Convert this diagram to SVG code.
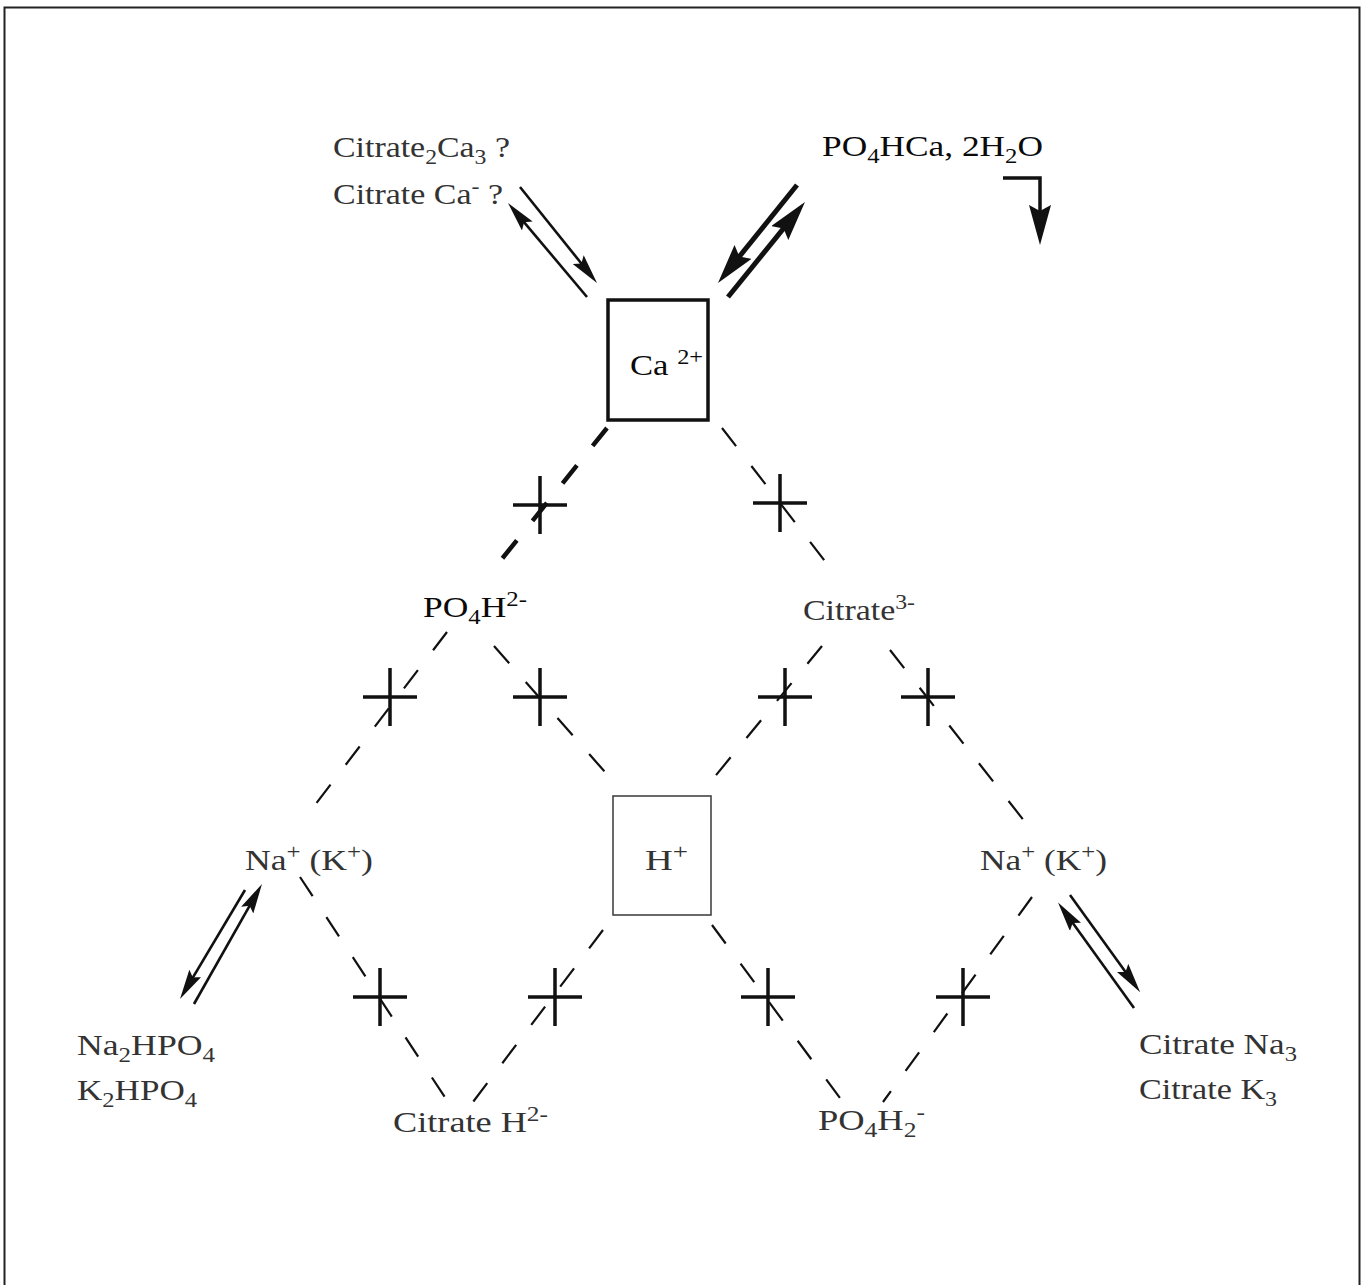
<svg xmlns="http://www.w3.org/2000/svg" width="1370" height="1285" viewBox="0 0 1370 1285">
<style>
.t{font-family:"Liberation Serif","Times New Roman",serif;font-size:30px;fill:#333}
.b{fill:#0a0a0a}
.d{stroke:#111;stroke-width:2.2;stroke-dasharray:23 25;fill:none}
.dk{stroke:#111;stroke-width:4.5;stroke-dasharray:23 25;fill:none}
.x{stroke:#111;stroke-width:3.5;fill:none}
.a{stroke:#111;stroke-width:2.6;fill:none;marker-end:url(#ah)}
.ak{stroke:#111;stroke-width:5;fill:none;marker-end:url(#ahk)}
</style>
<defs>
<marker id="ah" markerUnits="userSpaceOnUse" viewBox="0 0 30 14" markerWidth="30" markerHeight="14" refX="14" refY="7" orient="auto"><path d="M0,0 L30,7 L0,14 L5,7 z" fill="#111"/></marker>
<marker id="ahk" markerUnits="userSpaceOnUse" viewBox="0 0 40 22" markerWidth="40" markerHeight="22" refX="18" refY="11" orient="auto"><path d="M0,0 L40,11 L0,22 L6,11 z" fill="#111"/></marker>
</defs>
<rect x="4.5" y="7.5" width="1355" height="1295" fill="none" stroke="#222" stroke-width="2"/>

<g id="connectors">
<line class="dk" x1="607" y1="428" x2="497" y2="565"/>
<line class="d" x1="722" y1="428" x2="838" y2="578"/>
<line class="d" x1="447" y1="632" x2="315" y2="805"/>
<line class="d" x1="494" y1="646" x2="612" y2="780"/>
<line class="d" x1="822" y1="646" x2="712" y2="780"/>
<line class="d" x1="890" y1="650" x2="1025" y2="822"/>
<line class="d" x1="300" y1="877" x2="448" y2="1102"/>
<line class="d" x1="603" y1="930" x2="473" y2="1102"/>
<line class="d" x1="712" y1="925" x2="840" y2="1098"/>
<line class="d" x1="1032" y1="897" x2="883" y2="1102"/>
<path class="x" d="M513,505h54M540,476v58 M753,503h54M780,474v58 M363,697h54M390,668v58 M513,697h54M540,668v58 M758,697h54M785,668v58 M901,697h54M928,668v58 M353,997h54M380,968v58 M528,997h54M555,968v58 M741,997h54M768,968v58 M936,997h54M963,968v58"/>
<line class="a" x1="520" y1="187" x2="587" y2="270.5"/>
<line class="a" x1="587" y1="297" x2="518.3" y2="215.3"/>
<line class="ak" x1="797" y1="185" x2="731.8" y2="265.9"/>
<line class="ak" x1="728" y1="297" x2="791.1" y2="219.1"/>
<path d="M1003,178 H1040 V223" stroke="#111" stroke-width="3.5" fill="none" marker-end="url(#ahk)"/>
<line class="a" x1="245" y1="890" x2="188.2" y2="985.3"/>
<line class="a" x1="194" y1="1004" x2="254.1" y2="897.9"/>
<line class="a" x1="1070" y1="895" x2="1130.8" y2="979.3"/>
<line class="a" x1="1134" y1="1008" x2="1067.4" y2="915.6"/>
</g>

<g id="ca">
<rect x="608" y="300" width="100" height="120" fill="none" stroke="#111" stroke-width="3.5"/>
<text class="t b" x="630" y="375" textLength="73" lengthAdjust="spacingAndGlyphs">Ca <tspan font-size="21" dy="-11">2+</tspan></text>
</g>
<g id="h">
<rect x="613" y="796" width="98" height="119" fill="none" stroke="#444" stroke-width="1.6"/>
<text class="t" x="645" y="870" textLength="43" lengthAdjust="spacingAndGlyphs">H<tspan font-size="21" dy="-11">+</tspan></text>
</g>
<g id="citrate-ca">
<text class="t" x="333" y="157" textLength="177" lengthAdjust="spacingAndGlyphs">Citrate<tspan font-size="21" dy="7">2</tspan><tspan dy="-7">Ca</tspan><tspan font-size="21" dy="7">3</tspan><tspan dy="-7"> ?</tspan></text>
<text class="t" x="333" y="204" textLength="170" lengthAdjust="spacingAndGlyphs">Citrate Ca<tspan font-size="21" dy="-11">-</tspan><tspan dy="11"> ?</tspan></text>
</g>
<g id="po4hca">
<text class="t b" x="822" y="156" textLength="221" lengthAdjust="spacingAndGlyphs">PO<tspan font-size="21" dy="7">4</tspan><tspan dy="-7">HCa, 2H</tspan><tspan font-size="21" dy="7">2</tspan><tspan dy="-7">O</tspan></text>
</g>
<g id="po4h">
<text class="t b" x="423" y="617" textLength="104" lengthAdjust="spacingAndGlyphs">PO<tspan font-size="21" dy="7">4</tspan><tspan dy="-7">H</tspan><tspan font-size="21" dy="-11">2-</tspan></text>
</g>
<g id="citrate3">
<text class="t" x="803" y="620" textLength="112" lengthAdjust="spacingAndGlyphs">Citrate<tspan font-size="21" dy="-11">3-</tspan></text>
</g>
<g id="na-left">
<text class="t" x="245" y="870" textLength="128" lengthAdjust="spacingAndGlyphs">Na<tspan font-size="21" dy="-11">+</tspan><tspan dy="11"> (K</tspan><tspan font-size="21" dy="-11">+</tspan><tspan dy="11">)</tspan></text>
</g>
<g id="na-right">
<text class="t" x="980" y="870" textLength="127" lengthAdjust="spacingAndGlyphs">Na<tspan font-size="21" dy="-11">+</tspan><tspan dy="11"> (K</tspan><tspan font-size="21" dy="-11">+</tspan><tspan dy="11">)</tspan></text>
</g>
<g id="na2hpo4">
<text class="t" x="77" y="1055" textLength="138" lengthAdjust="spacingAndGlyphs">Na<tspan font-size="21" dy="7">2</tspan><tspan dy="-7">HPO</tspan><tspan font-size="21" dy="7">4</tspan></text>
<text class="t" x="77" y="1100" textLength="120" lengthAdjust="spacingAndGlyphs">K<tspan font-size="21" dy="7">2</tspan><tspan dy="-7">HPO</tspan><tspan font-size="21" dy="7">4</tspan></text>
</g>
<g id="citrate-na3">
<text class="t" x="1139" y="1054" textLength="158" lengthAdjust="spacingAndGlyphs">Citrate Na<tspan font-size="21" dy="7">3</tspan></text>
<text class="t" x="1139" y="1099" textLength="138" lengthAdjust="spacingAndGlyphs">Citrate K<tspan font-size="21" dy="7">3</tspan></text>
</g>
<g id="citrate-h">
<text class="t" x="393" y="1132" textLength="155" lengthAdjust="spacingAndGlyphs">Citrate H<tspan font-size="21" dy="-11">2-</tspan></text>
</g>
<g id="po4h2">
<text class="t" x="818" y="1130" textLength="107" lengthAdjust="spacingAndGlyphs">PO<tspan font-size="21" dy="7">4</tspan><tspan dy="-7">H</tspan><tspan font-size="21" dy="7">2</tspan><tspan font-size="21" dy="-18">-</tspan></text>
</g>
</svg>
